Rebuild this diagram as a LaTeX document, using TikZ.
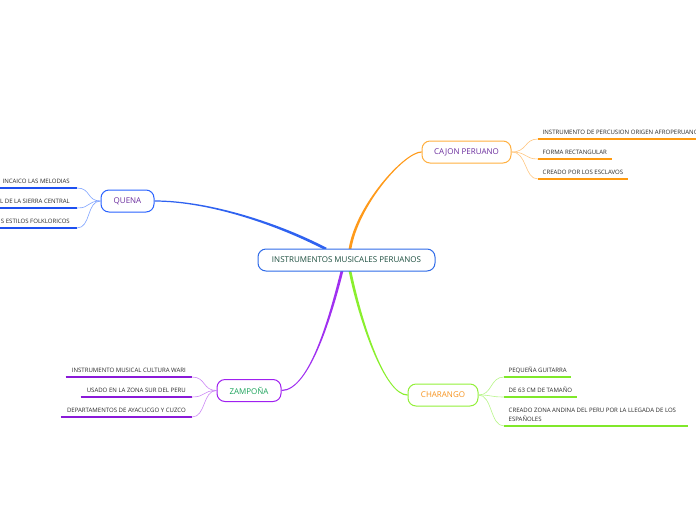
\documentclass[tikz,border=0pt]{standalone}
\usepackage{fontspec}
\setmainfont{Open Sans}
\usetikzlibrary{calc}
\definecolor{ctext}{HTML}{1B4D3E}
\definecolor{cborder}{HTML}{2F6BE8}
\definecolor{purtext}{HTML}{6A2C9E}
\definecolor{qborder}{HTML}{2962FF}
\definecolor{qmain}{HTML}{2F62F0}
\definecolor{qsub}{HTML}{7FA3FF}
\definecolor{qund}{HTML}{1E50F0}
\definecolor{kborder}{HTML}{FFB040}
\definecolor{kmain}{HTML}{FF9A1A}
\definecolor{ksub}{HTML}{FFC680}
\definecolor{kund}{HTML}{FF9A10}
\definecolor{htext}{HTML}{F7931E}
\definecolor{hborder}{HTML}{93F03A}
\definecolor{hmain}{HTML}{8AEF2E}
\definecolor{hsub}{HTML}{B8F58A}
\definecolor{hund}{HTML}{80E82A}
\definecolor{ztext}{HTML}{1AA35A}
\definecolor{zborder}{HTML}{A020F0}
\definecolor{zmain}{HTML}{A030F0}
\definecolor{zsub}{HTML}{CC88F5}
\definecolor{zund}{HTML}{8A1AD8}
\definecolor{subtext}{HTML}{2A2A2A}
\newcommand\mytaper[7]{%
  \fill[#1] ($(#2)+(#6)$) .. controls ($(#2)+(#3)+(#6)$) and ($(#5)+(#4)+(#7)$) .. ($(#5)+(#7)$)
   -- ($(#5)-(#7)$) .. controls ($(#5)+(#4)-(#7)$) and ($(#2)+(#3)-(#6)$) .. ($(#2)-(#6)$) -- cycle;}
\tikzset{
  box/.style={rounded corners=8pt, line width=1pt, fill=white, minimum height=22pt,
    inner xsep=0pt, inner ysep=0pt, font=\fontsize{8}{10}\selectfont},
  subitem/.style={font=\fontsize{6.05}{9}\selectfont, text=subtext, inner xsep=4.5pt,
    inner ysep=3pt, text height=5pt, text depth=1.5pt, align=left},
  uline/.style={line width=1.5pt},
  subline/.style={line width=0.6pt}
}
\begin{document}
\begin{tikzpicture}[x=1pt,y=-1pt]
\useasboundingbox (0,0) rectangle (696,520);
\clip (0,0) rectangle (696,520);
% named attach points on the central node
\coordinate (cq) at (326,249);
\coordinate (ck) at (350,249);
\coordinate (cz) at (342,271);
\coordinate (ch) at (350,271);
\coordinate (edge) at (-3,0);
% branch nodes
\node[box, draw=qborder, text=purtext, minimum width=53pt] (quena) at (127.5,201) {QUENA};
\node[box, draw=kborder, text=purtext, minimum width=89pt] (cajon) at (466.5,152) {CAJON PERUANO};
\node[box, draw=hborder, text=htext, minimum width=70pt] (charango) at (443,395) {CHARANGO};
\node[box, draw=zborder, text=ztext, minimum width=64pt] (zampona) at (249,390.5) {ZAMPOÑA};
% main tapered connectors
\mytaper{qmain}{quena.east}{56,0}{-46,-24}{cq}{0,-0.6}{0.62,-1.2}
\mytaper{kmain}{cajon.west}{-17,0}{7,-44}{ck}{0,-0.6}{-1.33,-0.21}
\mytaper{zmain}{zampona.east}{29,0}{-10,39}{cz}{0,0.6}{1.3,0.34}
\mytaper{hmain}{charango.west}{-23,0}{10,49}{ch}{0,0.6}{-1.32,0.27}
% central node
\node[box, draw=cborder, text=ctext, minimum width=177pt] (center) at (346.5,260) {INSTRUMENTOS MUSICALES PERUANOS};
% CAJON items
\node[subitem, anchor=south west] (k1) at (538,139) {INSTRUMENTO DE PERCUSION ORIGEN AFROPERUANO};
\node[subitem, anchor=south west] (k2) at (538,159) {FORMA RECTANGULAR};
\node[subitem, anchor=south west] (k3) at (538,179) {CREADO POR LOS ESCLAVOS};
\foreach \n in {k1,k2,k3}{
  \draw[uline, kund] (\n.south west) -- (\n.south east);
  \draw[subline, ksub] (cajon.east) .. controls +(16,0) and +(-14,0) .. (\n.south west);
}
% QUENA items
\node[subitem, inner xsep=7pt, anchor=south east] (q1) at (77,188) {INCAICO LAS MELODIAS};
\node[subitem, inner xsep=7pt, anchor=south east] (q2) at (77,208) {L DE LA SIERRA CENTRAL};
\node[subitem, inner xsep=7pt, anchor=south east] (q3) at (77,228) {S ESTILOS FOLKLORICOS};
\foreach \n in {q1,q2,q3}{
  \draw[uline, qund] (\n.south east) -- (\n.south east -| edge);
  \draw[subline, qsub] (quena.west) .. controls +(-14,0) and +(14,0) .. (\n.south east);
}
% CHARANGO items
\node[subitem, anchor=south west] (h1) at (504,377) {PEQUEÑA GUITARRA};
\node[subitem, anchor=south west] (h2) at (504,397) {DE 63 CM DE TAMAÑO};
\node[subitem, anchor=south west] (h3) at (504,426) {CREADO ZONA ANDINA DEL PERU POR LA LLEGADA DE LOS\hspace*{7pt}\\ESPAÑOLES};
\foreach \n in {h1,h2,h3}{
  \draw[uline, hund] (\n.south west) -- (\n.south east);
  \draw[subline, hsub] (charango.east) .. controls +(14,0) and +(-14,0) .. (\n.south west);
}
% ZAMPOÑA items
\node[subitem, inner xsep=6pt, anchor=south east] (z1) at (192,377) {INSTRUMENTO MUSICAL CULTURA WARI};
\node[subitem, inner xsep=6pt, anchor=south east] (z2) at (192,397) {USADO EN LA ZONA SUR DEL PERU};
\node[subitem, inner xsep=6pt, anchor=south east] (z3) at (192,417) {DEPARTAMENTOS DE AYACUCGO Y CUZCO};
\foreach \n in {z1,z2,z3}{
  \draw[uline, zund] (\n.south west) -- (\n.south east);
  \draw[subline, zsub] (zampona.west) .. controls +(-14,0) and +(14,0) .. (\n.south east);
}
\end{tikzpicture}
\end{document}
